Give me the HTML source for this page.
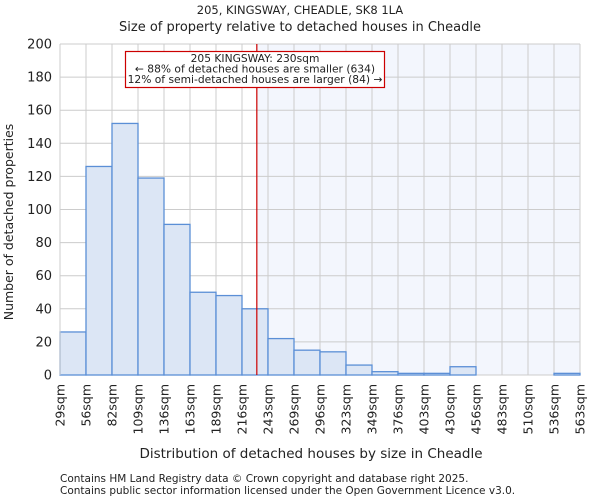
<!DOCTYPE html>
<html><head><meta charset="utf-8"><style>
body{margin:0;background:#fff;font-family:"DejaVu Sans","Liberation Sans",sans-serif;}
svg text{font-family:"DejaVu Sans","Liberation Sans",sans-serif;fill:#222;}
</style></head><body>
<svg id="chart" width="600" height="500" viewBox="0 0 600 500" xmlns="http://www.w3.org/2000/svg">
<text x="300" y="14" text-anchor="middle" font-size="11.5">205, KINGSWAY, CHEADLE, SK8 1LA</text>
<text x="300" y="31" text-anchor="middle" font-size="13">Size of property relative to detached houses in Cheadle</text>
<g id="plot"></g>
<text x="311" y="458" text-anchor="middle" font-size="13.5">Distribution of detached houses by size in Cheadle</text>
<text transform="translate(13,222) rotate(-90)" text-anchor="middle" font-size="12.5">Number of detached properties</text>
<text x="60" y="482" font-size="10.5" fill="#444">Contains HM Land Registry data © Crown copyright and database right 2025.</text>
<text x="60" y="494" font-size="10.5" fill="#444">Contains public sector information licensed under the Open Government Licence v3.0.</text>
</svg>
<script>
const binLabels=["29sqm","56sqm","82sqm","109sqm","136sqm","163sqm","189sqm","216sqm","243sqm","269sqm","296sqm","323sqm","349sqm","376sqm","403sqm","430sqm","456sqm","483sqm","510sqm","536sqm","563sqm"];
const counts=[26,126,152,119,91,50,48,40,22,15,14,6,2,1,1,5,0,0,0,1];
const yTicks=[0,20,40,60,80,100,120,140,160,180,200];
const markerIndex=7.57;
const X0=60,X1=580,Y0=375,Y1=44,YMAX=200;
const bw=(X1-X0)/counts.length;
const xs=i=>X0+i*bw;
const ys=v=>Y0-(v/YMAX)*(Y0-Y1);
const NS="http://www.w3.org/2000/svg";
const g=document.getElementById('plot');
function mk(t,a){const e=document.createElementNS(NS,t);for(const k in a)e.setAttribute(k,a[k]);g.appendChild(e);return e;}
const mx=xs(markerIndex);
let sh=mk('rect',{x:mx,y:Y1,width:X1-mx,height:Y0-Y1,fill:'#f3f6fd'});


yTicks.forEach(t=>{
 let l=mk('line',{x1:X0,x2:X1,y1:ys(t),y2:ys(t),stroke:'#ccc','stroke-width':1});
 
 
 let tx=mk('text',{x:X0-8,y:ys(t)+4.5,'text-anchor':'end','font-size':'13'});
 tx.textContent=t;
 
 
});
binLabels.forEach((s,i)=>{
 let l=mk('line',{x1:xs(i),x2:xs(i),y1:Y1,y2:Y0,stroke:'#ccc','stroke-width':1});
 
 
 let tx=mk('text',{transform:`translate(${xs(i)+4.5},384) rotate(-90)`,'text-anchor':'end','font-size':'12.5'});
 tx.textContent=s;
 
 
});
counts.forEach((c,i)=>{
 let r=mk('rect',{x:xs(i),y:ys(c),width:bw,height:Y0-ys(c),fill:'#dce6f5',stroke:'#5b8fd6','stroke-width':1.3});
 
 
});
let ml=mk('line',{x1:mx,x2:mx,y1:Y1,y2:Y0,stroke:'#cc0000','stroke-width':1.2});


let box=mk('rect',{x:125.5,y:51.5,width:259,height:36,fill:'#fff',stroke:'#cc0000','stroke-width':1.2});


["205 KINGSWAY: 230sqm","← 88% of detached houses are smaller (634)","12% of semi-detached houses are larger (84) →"].forEach((s,i)=>{
 let t=mk('text',{x:255,y:62+i*10.5,'text-anchor':'middle','font-size':'10.7'});
 t.textContent=s;
 
 
});
let ax=mk('line',{x1:X0,x2:X0,y1:Y1,y2:Y0,stroke:'#ccc'});


</script>
</body></html>
